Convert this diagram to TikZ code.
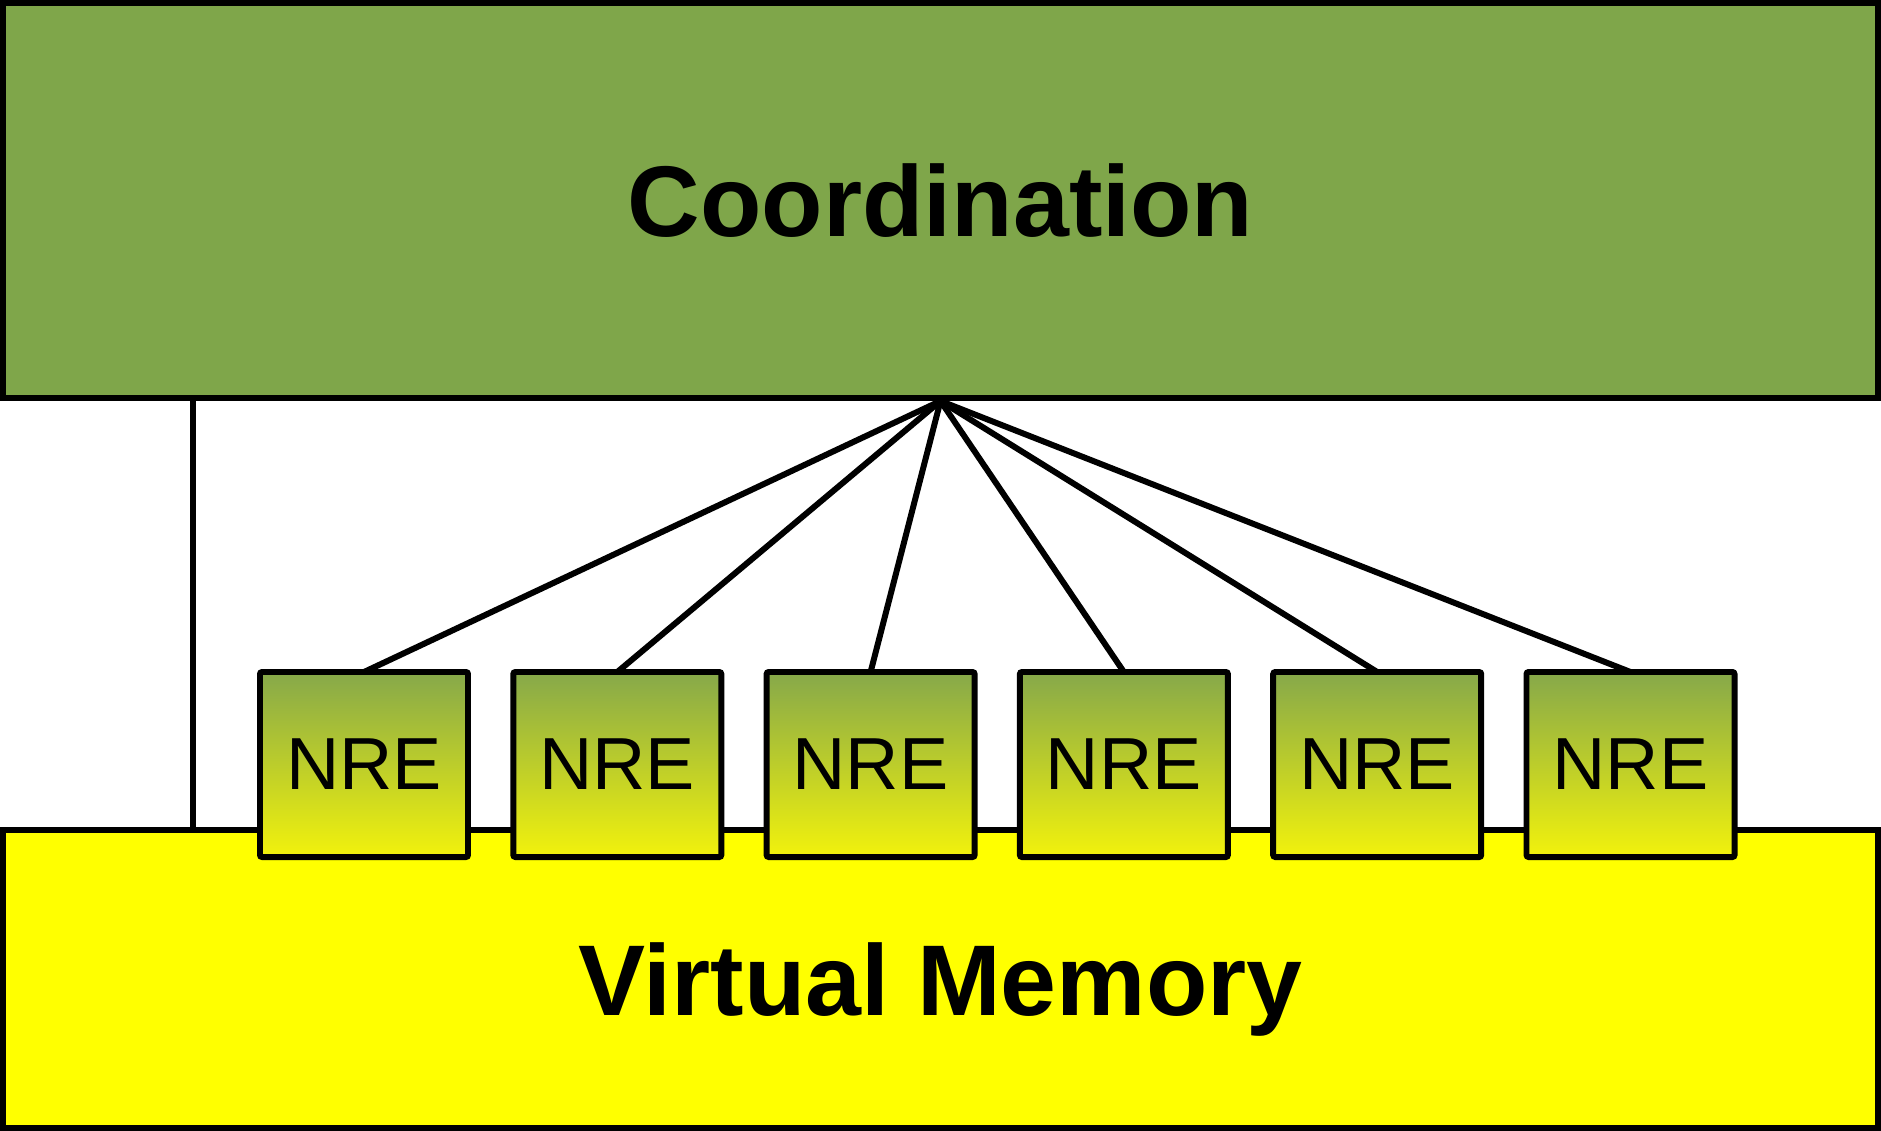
\documentclass[tikz,border=0pt]{standalone}
\usepackage{fontspec}
\setmainfont{Liberation Sans}
\usepackage{tikz}
\usetikzlibrary{positioning,calc}
\definecolor{crdgreen}{HTML}{7FA64A}
\definecolor{vmyellow}{HTML}{FFFF00}
\definecolor{nretop}{HTML}{86A84A}
\definecolor{nrebot}{HTML}{F2F20C}

\begin{document}
\begin{tikzpicture}[
  every node/.style={align=center,inner sep=0pt},
  layer/.style={draw=black,line width=1.7pt,minimum width=18.75cm,font=\bfseries\fontsize{28.6}{34}\selectfont},
  engine/.style={draw=black,line width=1.7pt,rounded corners=0.6pt,minimum width=2.08cm,minimum height=1.85cm,
    outer sep=0pt,top color=nretop,bottom color=nrebot,font=\fontsize{21}{25}\selectfont},
  link/.style={line width=1.7pt,color=black}
]
\useasboundingbox (0,0) rectangle (18.81,-11.31);
\node[layer,fill=crdgreen,minimum height=3.95cm] (coord) at (9.405,-2.005) {Coordination};
\node[layer,fill=vmyellow,minimum height=2.98cm,text depth=0pt] (vmem) at (9.405,-9.79) {Virtual Memory};
\foreach \i in {1,...,6}
  \node[engine] (nre\i) at ({3.64+2.533*(\i-1)},-7.645) {NRE};
\draw[link] ([xshift=1.925cm]coord.south west) -- ([xshift=1.925cm]vmem.north west);
\foreach \i in {1,...,6}
  \draw[link] (coord.south) -- (nre\i.north);
\end{tikzpicture}
\end{document}
